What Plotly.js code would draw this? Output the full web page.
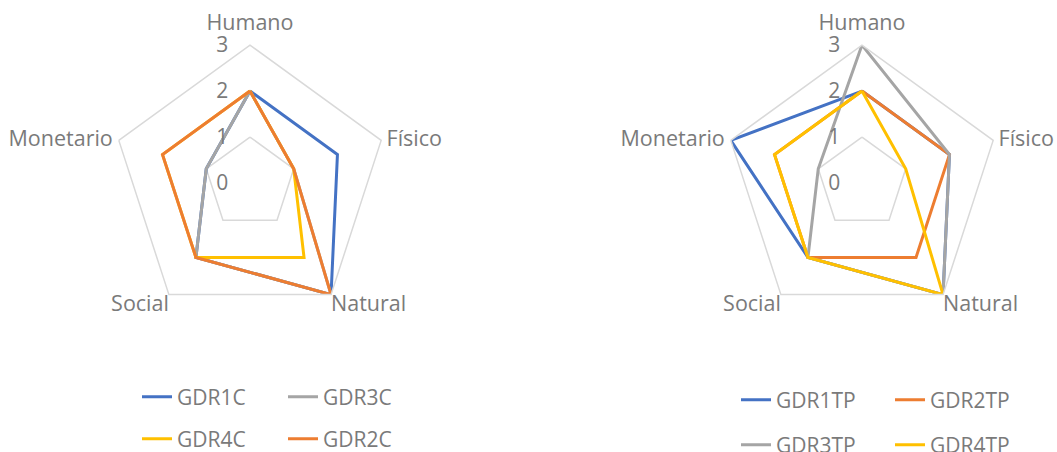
<!DOCTYPE html>
<html>
<head>
<meta charset="utf-8">
<script src="https://cdn.plot.ly/plotly-3.0.1.min.js"></script>
<style>html,body{margin:0;padding:0;background:#fff;}#chart{width:1057px;height:452px;}</style>
</head>
<body>
<div id="chart"></div>
<script>
// Categories (axes of the radar)
const categories = ["Humano", "Físico", "Natural", "Social", "Monetario"];
const radialTicks = [0, 1, 2, 3];
const innerGridLevel = 1;

// Left chart series (order as in Excel)
const leftNames = ["GDR1C", "GDR3C", "GDR4C", "GDR2C"];
const GDR1C = [2, 2, 3, 2, 1];
const GDR3C = [2, 1, 3, 2, 1];
const GDR4C = [2, 1, 2, 2, 2];
const GDR2C = [2, 1, 3, 2, 2];

// Right chart series
const rightNames = ["GDR1TP", "GDR2TP", "GDR3TP", "GDR4TP"];
const GDR1TP = [2, 2, 3, 2, 3];
const GDR2TP = [2, 2, 2, 2, 2];
const GDR3TP = [3, 2, 3, 2, 1];
const GDR4TP = [2, 1, 3, 2, 2];

const BLUE = "#4472C4", ORANGE = "#ED7D31", GRAY = "#A5A5A5", YELLOW = "#FFC000";
const TXT = "#7a7a7a", GRID = "#d9d9d9";
const FONT = "Open Sans, sans-serif";
const R_MAX = radialTicks[radialTicks.length - 1];

function closeLoop(a) { return a.concat([a[0]]); }
const thetaClosed = closeLoop(categories);

function gridTrace(subplot) {
  return {
    type: "scatterpolar", subplot: subplot, mode: "lines",
    r: closeLoop(categories.map(() => innerGridLevel)), theta: thetaClosed,
    line: {color: GRID, width: 1.5}, hoverinfo: "skip", showlegend: false
  };
}
function labelTrace(subplot) {
  return {
    type: "scatterpolar", subplot: subplot, mode: "markers+text",
    r: categories.map(() => R_MAX), theta: categories, text: categories,
    textposition: ["top center", "middle right", "bottom right", "bottom left", "middle left"],
    marker: {size: [14, 7, 0, 0, 8], color: "rgba(0,0,0,0)"},
    textfont: {family: FONT, size: 21.5, color: TXT},
    cliponaxis: false, hoverinfo: "skip", showlegend: false
  };
}
function seriesTrace(name, vals, color, subplot, legend) {
  return {
    type: "scatterpolar", subplot: subplot, mode: "lines", name: name,
    r: closeLoop(vals), theta: thetaClosed,
    line: {color: color, width: 3}, legend: legend
  };
}

const data = [
  gridTrace("polar"),
  gridTrace("polar2"),
  labelTrace("polar"),
  labelTrace("polar2"),
  seriesTrace(leftNames[0], GDR1C, BLUE, "polar", "legend"),
  seriesTrace(leftNames[1], GDR3C, GRAY, "polar", "legend"),
  seriesTrace(leftNames[2], GDR4C, YELLOW, "polar", "legend2"),
  seriesTrace(leftNames[3], GDR2C, ORANGE, "polar", "legend2"),
  seriesTrace(rightNames[0], GDR1TP, BLUE, "polar2", "legend3"),
  seriesTrace(rightNames[1], GDR2TP, ORANGE, "polar2", "legend3"),
  seriesTrace(rightNames[2], GDR3TP, GRAY, "polar2", "legend4"),
  seriesTrace(rightNames[3], GDR4TP, YELLOW, "polar2", "legend4")
];

function polarCfg(xdom) {
  return {
    domain: {x: xdom, y: [0.2898, 0.9004]},
    gridshape: "linear",
    bgcolor: "rgba(0,0,0,0)",
    radialaxis: {
      range: [0, R_MAX], tickvals: radialTicks, angle: 90, side: "counterclockwise",
      tickangle: 90,
      showline: false, showgrid: false, ticks: "outside", ticklen: 14,
      tickcolor: "rgba(0,0,0,0)", tickfont: {family: FONT, size: 21, color: TXT}
    },
    angularaxis: {
      direction: "clockwise", rotation: 90, showgrid: false, showline: true,
      linecolor: GRID, linewidth: 1.5, ticks: "", showticklabels: false
    }
  };
}

function legendCfg(x, y, w) {
  return {
    orientation: "h", x: x, y: y, xanchor: "left", yanchor: "middle",
    entrywidth: w, entrywidthmode: "pixels",
    font: {family: FONT, size: 21, color: TXT}, bgcolor: "rgba(0,0,0,0)"
  };
}

const layout = {
  width: 1057, height: 452,
  margin: {l: 0, r: 0, t: 0, b: 0, autoexpand: false},
  paper_bgcolor: "#fff",
  showlegend: true,
  polar: polarCfg([0.106, 0.367]),
  polar2: polarCfg([0.685, 0.946]),
  legend: legendCfg(137 / 1057, 1 - 397 / 452, 101),
  legend2: legendCfg(137 / 1057, 1 - 439 / 452, 101),
  legend3: legendCfg(736 / 1057, 1 - 400 / 452, 109),
  legend4: legendCfg(736 / 1057, 1 - 445 / 452, 109)
};

Plotly.newPlot("chart", data, layout, {staticPlot: true});
</script>
</body>
</html>
